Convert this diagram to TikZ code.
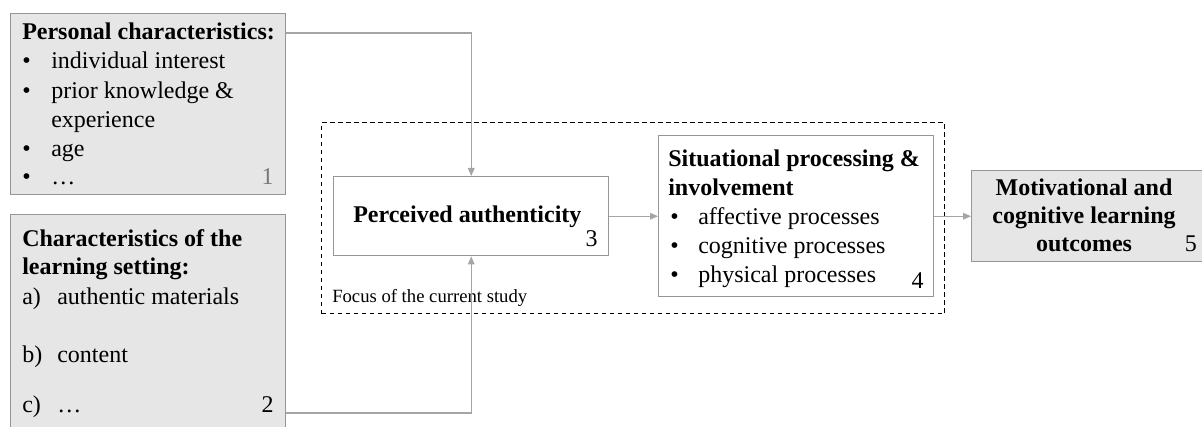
\documentclass[tikz,border=0pt]{standalone}
\usepackage{fontspec}
\setmainfont{Liberation Serif}
\usetikzlibrary{arrows.meta}
\definecolor{boxgray}{RGB}{150,150,150}
\definecolor{conngray}{RGB}{165,165,165}
\definecolor{fillgray}{RGB}{230,230,230}
\definecolor{numgray}{RGB}{120,120,120}
\tikzset{
  box/.style={draw=boxgray, line width=1.1pt, rectangle, inner sep=0pt, anchor=north west},
  greybox/.style={box, fill=fillgray},
  whitebox/.style={box, fill=white},
  focus/.style={draw=black, line width=0.8pt, dash pattern=on 3.5pt off 2.5pt, rectangle, inner sep=0pt, anchor=north west},
  conn/.style={draw=conngray, line width=0.8pt, -{Triangle[length=6pt,width=5pt,fill=conngray]}},
  txt/.style={inner sep=0pt, anchor=base west, font=\fontsize{18}{22}\selectfont},
  btxt/.style={txt, font=\fontsize{18}{22}\selectfont\bfseries},
  ctxt/.style={txt, anchor=base, font=\fontsize{18}{22}\selectfont\bfseries},
  num/.style={inner sep=0pt, anchor=base east, font=\fontsize{18}{22}\selectfont},
  small/.style={inner sep=0pt, anchor=base west, font=\fontsize{14}{17}\selectfont},
}
\begin{document}
\begin{tikzpicture}[x=0.75pt,y=-0.75pt]
\useasboundingbox (0,0) rectangle (1202,427);
% focus frame
\node[focus, minimum width=467.25pt, minimum height=143.25pt] (focus) at (321,122) {};
\node[small] (focuslbl) at (332,303) {Focus of the current study};
% boxes
\node[greybox, minimum width=206.25pt, minimum height=135.75pt] (b1) at (10,13) {};
\node[greybox, minimum width=206.25pt, minimum height=173.25pt] (b2) at (10,214) {};
\node[whitebox, minimum width=206.25pt, minimum height=59.25pt] (b3) at (333,176) {};
\node[whitebox, minimum width=206.25pt, minimum height=120.75pt] (b4) at (658,135) {};
\node[greybox, minimum width=183pt, minimum height=68.25pt] (b5) at (971,170) {};
% box 1 text
\node[btxt] (t1a) at (22,40) {Personal characteristics:};
\node[txt] (t1b1) at (22,69) {•};
\node[txt] (t1b) at (51,69) {individual interest};
\node[txt] (t1c1) at (22,99) {•};
\node[txt] (t1c) at (51,99) {prior knowledge \&};
\node[txt] (t1d) at (51,128) {experience};
\node[txt] (t1e1) at (22,157) {•};
\node[txt] (t1e) at (51,157) {age};
\node[txt] (t1f1) at (22,185) {•};
\node[txt] (t1f) at (51,185) {…};
\node[num, text=numgray] (n1) at (274,185) {1};
% box 2 text
\node[btxt] (t2a) at (22,247) {Characteristics of the};
\node[btxt] (t2b) at (22,275) {learning setting:};
\node[txt] (t2c1) at (22,305) {a)};
\node[txt] (t2c) at (57,305) {authentic materials};
\node[txt] (t2d1) at (22,363) {b)};
\node[txt] (t2d) at (57,363) {content};
\node[txt] (t2e1) at (22,412) {c)};
\node[txt] (t2e) at (57,412) {…};
\node[num] (n2) at (274,412) {2};
% box 3 text
\node[btxt] (t3) at (353,223) {Perceived authenticity};
\node[num] (n3) at (598,247) {3};
% box 4 text
\node[btxt] (t4a) at (668,167) {Situational processing \&};
\node[btxt] (t4b) at (668,196) {involvement};
\node[txt] (t4c1) at (670,225) {•};
\node[txt] (t4c) at (698,225) {affective processes};
\node[txt] (t4d1) at (670,254) {•};
\node[txt] (t4d) at (698,254) {cognitive processes};
\node[txt] (t4e1) at (670,283) {•};
\node[txt] (t4e) at (698,283) {physical processes};
\node[num] (n4) at (924,289) {4};
% box 5 text
\node[ctxt] (t5a) at (1084,196) {Motivational and};
\node[ctxt] (t5b) at (1084,224) {cognitive learning};
\node[ctxt] (t5c) at (1084,252) {outcomes};
\node[num] (n5) at (1197,252) {5};
% connectors
\draw[conn] (b1.east |- 0,33) -| (b3.north);
\draw[conn] (b2.east |- 0,413) -| (b3.south);
\draw[conn] (b3.east) -- (b4.west |- b3.east);
\draw[conn] (b4.east |- b3.east) -- (b5.west |- b3.east);
\end{tikzpicture}
\end{document}
